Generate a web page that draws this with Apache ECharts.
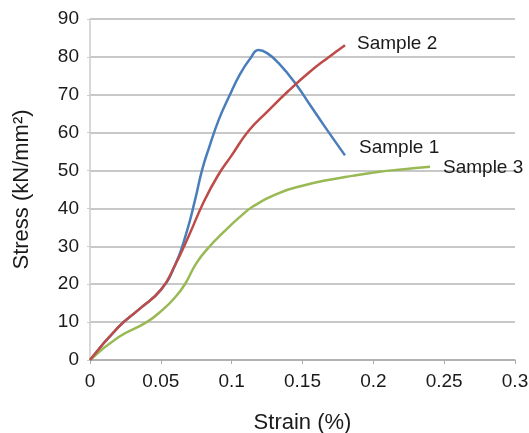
<!DOCTYPE html>
<html>
<head>
<meta charset="utf-8">
<script src="https://cdn.jsdelivr.net/npm/echarts@6/dist/echarts.min.js"></script>
<style>
  html, body { margin: 0; padding: 0; background: #fff; }
  #chart { width: 529px; height: 433px; }
</style>
</head>
<body>
<div id="chart"></div>
<script>
// Data
var sample1Strain = [0, 0.02, 0.035, 0.05, 0.06, 0.068, 0.074, 0.079, 0.084, 0.091, 0.098, 0.106, 0.113, 0.119, 0.125, 0.133, 0.145, 0.155, 0.165, 0.18];
var sample1Stress = [0, 8.7, 13.5, 18.5, 25, 33.5, 42, 50, 56, 63.5, 69.4, 75.5, 79.5, 81.8, 81, 78.4, 73, 67.5, 62, 54];

var sample2Strain = [0, 0.02, 0.035, 0.05, 0.06, 0.07, 0.08, 0.09, 0.1, 0.112, 0.125, 0.14, 0.155, 0.168, 0.18];
var sample2Stress = [0, 8.7, 13.5, 18.5, 25, 33, 41.5, 48.5, 54, 60.5, 65.5, 71, 76, 79.8, 83.1];

var sample3Strain = [0, 0.02, 0.04, 0.052, 0.06, 0.067, 0.075, 0.084, 0.095, 0.105, 0.115, 0.133, 0.15, 0.168, 0.185, 0.203, 0.22, 0.24];
var sample3Stress = [0, 6, 10, 13.5, 16.5, 20, 25.5, 29.8, 34, 37.5, 40.5, 44, 46, 47.5, 48.6, 49.6, 50.3, 51];

var seriesNames = ['Sample 1', 'Sample 2', 'Sample 3'];
var seriesColors = ['#4a7ebb', '#be4b48', '#98b954'];

function pairs(xs, ys) {
  return xs.map(function (x, i) { return [x, ys[i]]; });
}

var font = 'Liberation Sans';
var textColor = '#1a1a1a';

function makeSeries(idx, xs, ys, labelOffset) {
  return {
    name: seriesNames[idx],
    type: 'line',
    data: pairs(xs, ys),
    smooth: 0.5,
    showSymbol: false,
    lineStyle: { color: seriesColors[idx], width: 2.5 },
    itemStyle: { color: seriesColors[idx] },
    endLabel: {
      show: true,
      formatter: '{a}',
      distance: 8,
      offset: labelOffset,
      color: textColor,
      fontFamily: font,
      fontSize: 19
    },
    z: idx === 1 ? 3 : 2
  };
}

var myChart = echarts.init(document.getElementById('chart'), null, { renderer: 'canvas' });

myChart.setOption({
  animation: false,
  backgroundColor: '#fff',
  grid: { left: 90, right: 14, top: 19, bottom: 73, outerBoundsMode: 'none' },
  xAxis: {
    type: 'value',
    min: 0,
    max: 0.3,
    interval: 0.05,
    name: 'Strain (%)',
    nameLocation: 'middle',
    nameGap: 52,
    nameTextStyle: { color: textColor, fontFamily: font, fontSize: 22 },
    axisLine: { show: true, lineStyle: { color: '#aaaaaa', width: 1.5 } },
    axisTick: { show: true, length: 4, lineStyle: { color: '#aaaaaa' } },
    axisLabel: { color: textColor, fontFamily: font, fontSize: 19, margin: 12 },
    splitLine: { show: false }
  },
  yAxis: {
    type: 'value',
    min: 0,
    max: 90,
    interval: 10,
    name: 'Stress (kN/mm²)',
    nameLocation: 'middle',
    nameGap: 57,
    nameTextStyle: { color: textColor, fontFamily: font, fontSize: 22 },
    axisLine: { show: true, lineStyle: { color: '#cccccc', width: 1.5 } },
    axisTick: { show: true, length: 3, lineStyle: { color: '#cccccc' } },
    axisLabel: { color: textColor, fontFamily: font, fontSize: 19, margin: 11 },
    splitLine: { show: true, lineStyle: { color: '#c8c8c8', width: 2 } }
  },
  series: [
    makeSeries(0, sample1Strain, sample1Stress, [6, -8]),
    makeSeries(1, sample2Strain, sample2Stress, [4, -1]),
    makeSeries(2, sample3Strain, sample3Stress, [5, 1])
  ]
});
</script>
</body>
</html>
